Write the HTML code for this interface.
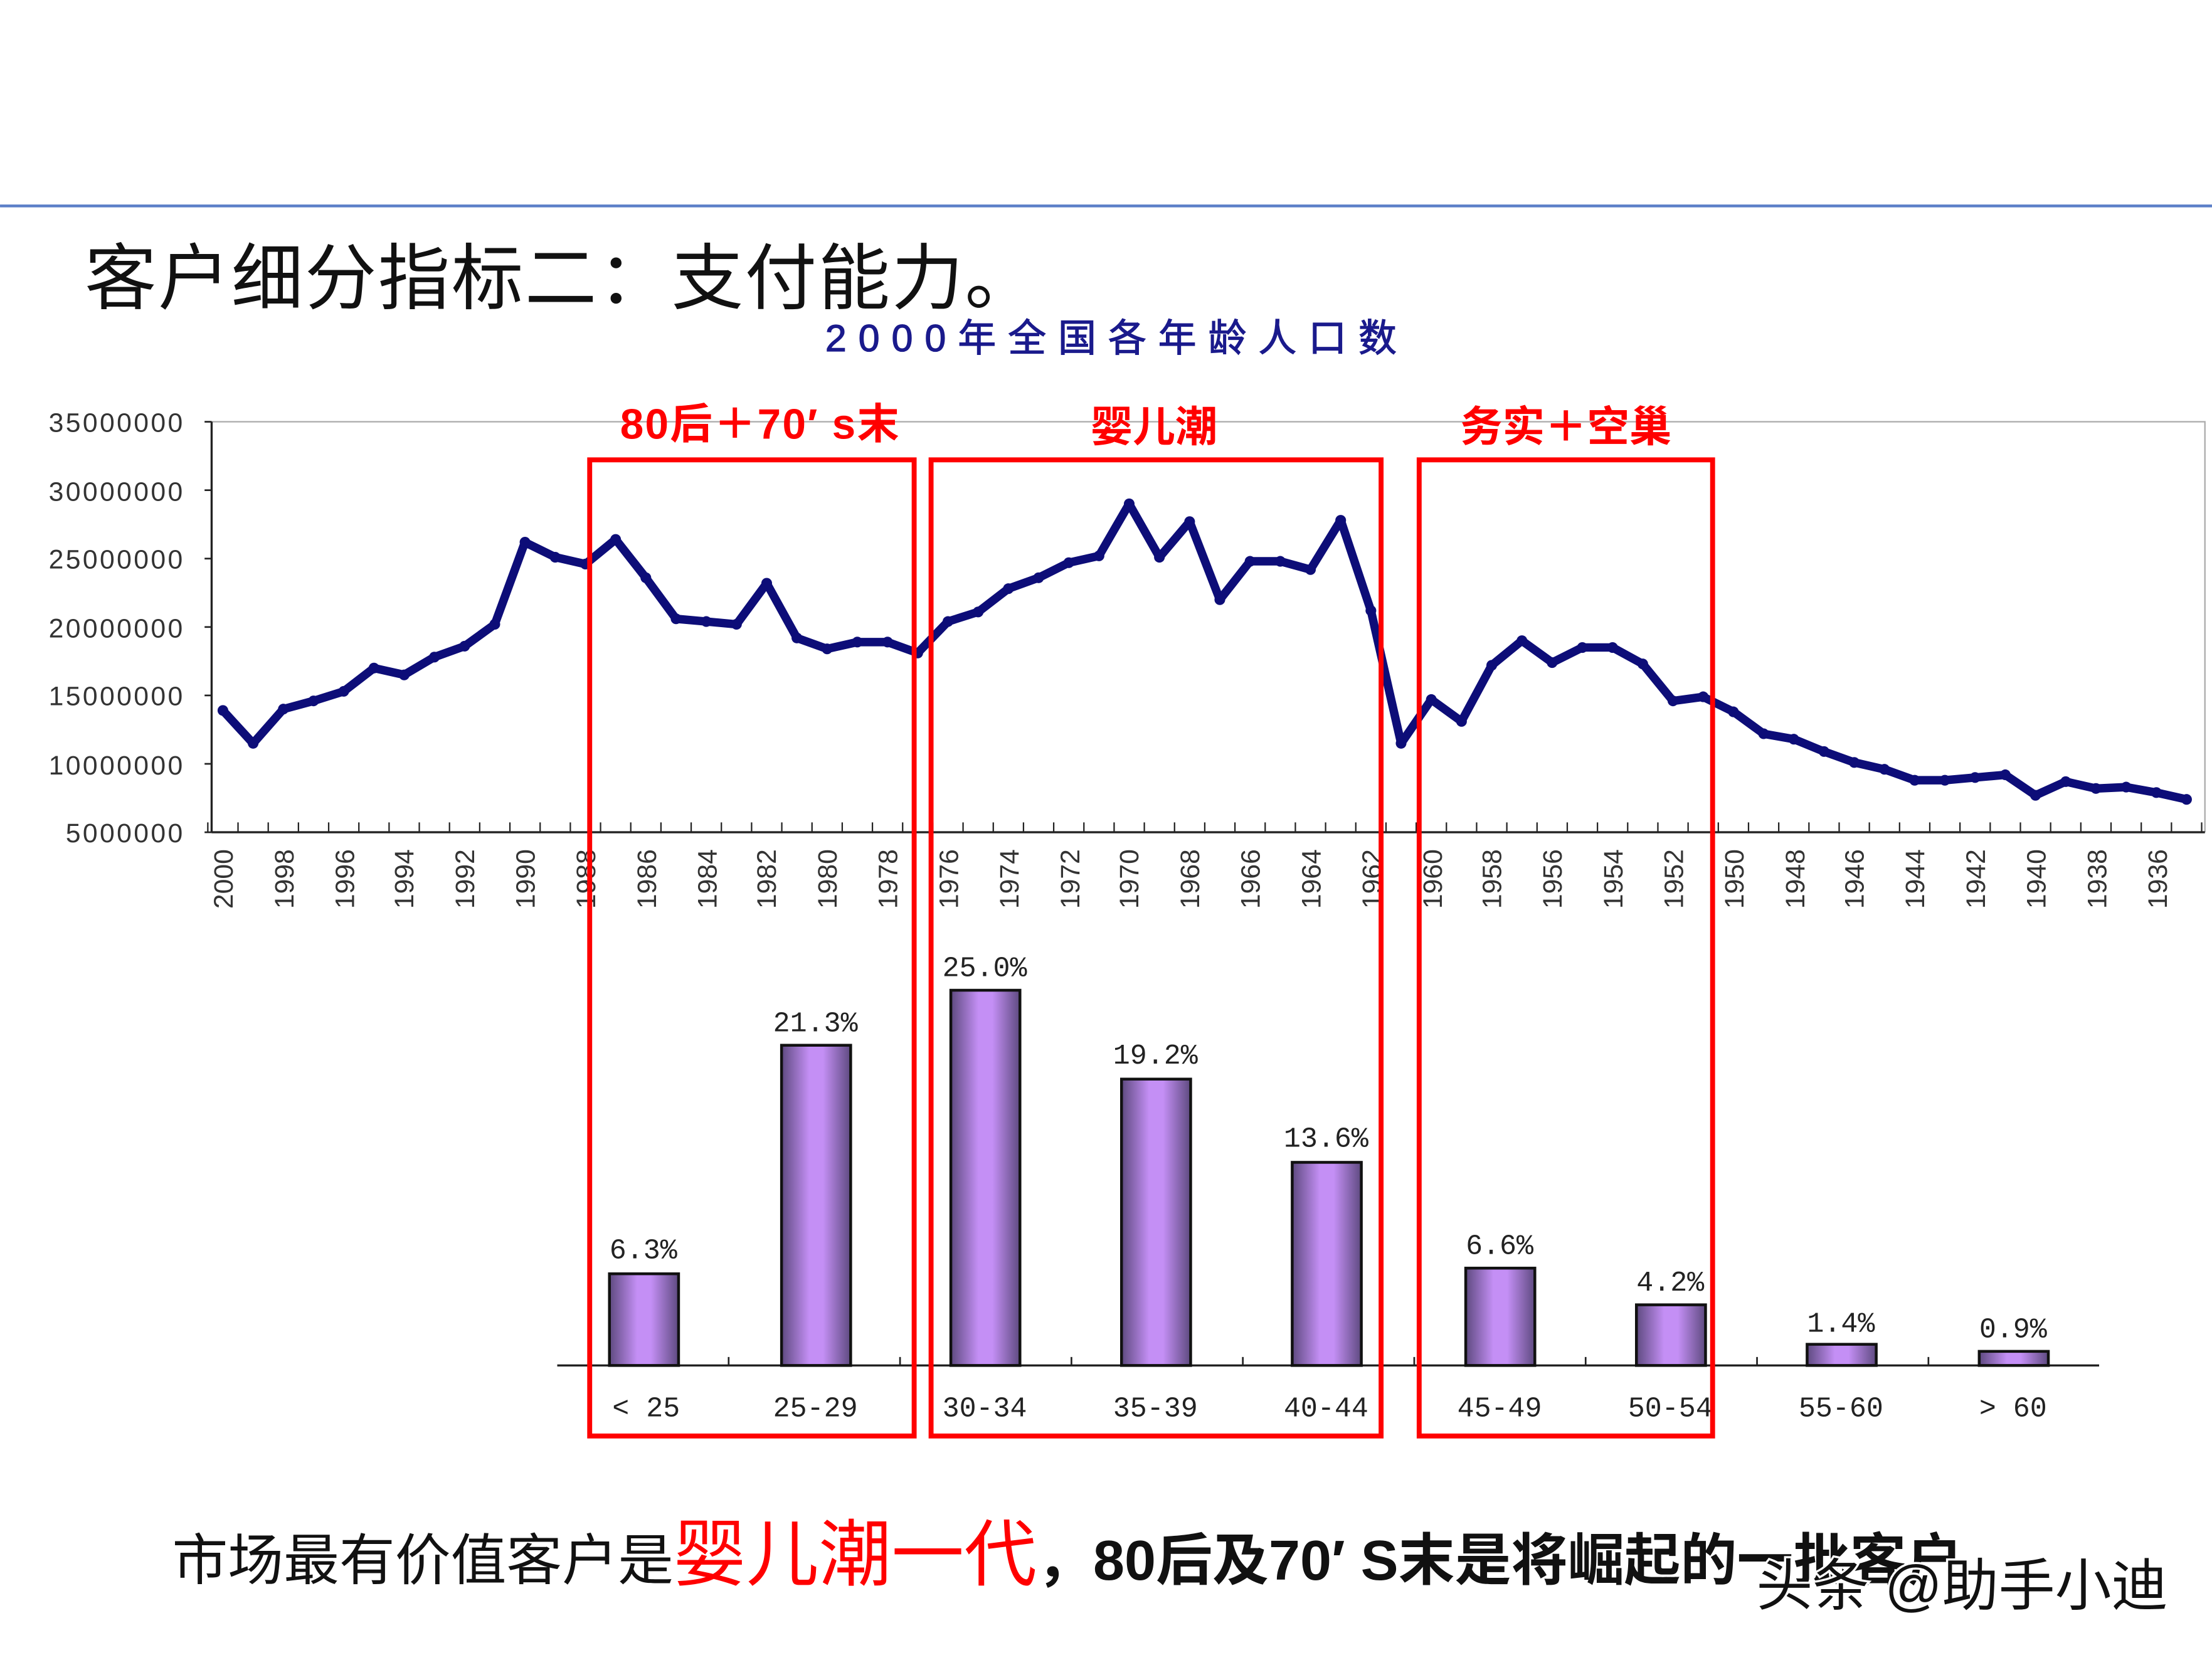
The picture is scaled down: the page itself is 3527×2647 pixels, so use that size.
<!DOCTYPE html>
<html><head><meta charset="utf-8"><style>
html,body{margin:0;padding:0;background:#fff;}
svg{display:block}
</style></head><body>
<svg id="s" xmlns="http://www.w3.org/2000/svg" width="3527" height="2647" viewBox="0 0 1568 1176.8">
<defs>
<linearGradient id="bg" x1="0" x2="1" y1="0" y2="0">
<stop offset="0" stop-color="#5e4a80"/>
<stop offset="0.4" stop-color="#c48ff5"/>
<stop offset="0.6" stop-color="#c48ff5"/>
<stop offset="1" stop-color="#5e4a80"/>
</linearGradient>
</defs>
<rect width="1568" height="1177" fill="#fff"/>
<line x1="0" y1="146" x2="1568" y2="146" stroke="#5b7fc8" stroke-width="2"/>
<text x="60" y="215" font-family="Liberation Sans, Noto Sans CJK SC, sans-serif" font-size="51" fill="#111" letter-spacing="1">客户细分指标二：支付能力。</text>
<text x="585" y="249" font-family="Liberation Sans, Noto Sans CJK SC, sans-serif" font-size="27" fill="#1a1a8c" stroke="#1a1a8c" stroke-width="0.6" letter-spacing="8.5">2000年全国各年龄人口数</text>

<!-- plot frame -->
<polyline points="150,299 1563,299 1563,590" fill="none" stroke="#aaa" stroke-width="1"/>
<line x1="150" y1="299" x2="150" y2="590" stroke="#222" stroke-width="1.5"/>
<line x1="150" y1="590" x2="1563" y2="590" stroke="#222" stroke-width="1.5"/>
<g id="yt" stroke="#222" stroke-width="1.2"></g>
<g font-family="Liberation Sans, sans-serif" font-size="19" fill="#333" text-anchor="end" letter-spacing="1.5">
<text x="131" y="306">35000000</text>
<text x="131" y="355">30000000</text>
<text x="131" y="403">25000000</text>
<text x="131" y="452">20000000</text>
<text x="131" y="500">15000000</text>
<text x="131" y="549">10000000</text>
<text x="131" y="597">5000000</text>
</g>
<g id="xt" stroke="#222" stroke-width="1"></g>
<g font-family="Liberation Sans, sans-serif" font-size="19" fill="#333" text-anchor="end">
<text transform="translate(165,602) rotate(-90)">2000</text>
<text transform="translate(208,602) rotate(-90)">1998</text>
<text transform="translate(251,602) rotate(-90)">1996</text>
<text transform="translate(293,602) rotate(-90)">1994</text>
<text transform="translate(336,602) rotate(-90)">1992</text>
<text transform="translate(379,602) rotate(-90)">1990</text>
<text transform="translate(422,602) rotate(-90)">1988</text>
<text transform="translate(465,602) rotate(-90)">1986</text>
<text transform="translate(508,602) rotate(-90)">1984</text>
<text transform="translate(550,602) rotate(-90)">1982</text>
<text transform="translate(593,602) rotate(-90)">1980</text>
<text transform="translate(636,602) rotate(-90)">1978</text>
<text transform="translate(679,602) rotate(-90)">1976</text>
<text transform="translate(722,602) rotate(-90)">1974</text>
<text transform="translate(765,602) rotate(-90)">1972</text>
<text transform="translate(807,602) rotate(-90)">1970</text>
<text transform="translate(850,602) rotate(-90)">1968</text>
<text transform="translate(893,602) rotate(-90)">1966</text>
<text transform="translate(936,602) rotate(-90)">1964</text>
<text transform="translate(979,602) rotate(-90)">1962</text>
<text transform="translate(1022,602) rotate(-90)">1960</text>
<text transform="translate(1064,602) rotate(-90)">1958</text>
<text transform="translate(1107,602) rotate(-90)">1956</text>
<text transform="translate(1150,602) rotate(-90)">1954</text>
<text transform="translate(1193,602) rotate(-90)">1952</text>
<text transform="translate(1236,602) rotate(-90)">1950</text>
<text transform="translate(1279,602) rotate(-90)">1948</text>
<text transform="translate(1321,602) rotate(-90)">1946</text>
<text transform="translate(1364,602) rotate(-90)">1944</text>
<text transform="translate(1407,602) rotate(-90)">1942</text>
<text transform="translate(1450,602) rotate(-90)">1940</text>
<text transform="translate(1493,602) rotate(-90)">1938</text>
<text transform="translate(1536,602) rotate(-90)">1936</text>
</g>
<polyline id="ln" fill="none" stroke="#0d0d78" stroke-width="6" stroke-linejoin="round" stroke-linecap="round"/>
<g id="dots" fill="#0d0d78"></g>

<!-- bar chart -->
<line x1="395" y1="968" x2="1488" y2="968" stroke="#222" stroke-width="1.5"/>
<g id="bt" stroke="#222" stroke-width="1.2"></g>
<g stroke="#111" stroke-width="2" fill="url(#bg)">
<rect x="432" y="903" width="49" height="65"/>
<rect x="554" y="741" width="49" height="227"/>
<rect x="674" y="702" width="49" height="266"/>
<rect x="795" y="765" width="49" height="203"/>
<rect x="916" y="824" width="49" height="144"/>
<rect x="1039" y="899" width="49" height="69"/>
<rect x="1160" y="925" width="49" height="43"/>
<rect x="1281" y="953" width="49" height="15"/>
<rect x="1403" y="958" width="49" height="10"/>
</g>
<g font-family="Liberation Mono, DejaVu Sans Mono, monospace" font-size="20" fill="#222" text-anchor="middle">
<text x="456" y="892">6.3%</text>
<text x="578" y="731">21.3%</text>
<text x="698" y="692">25.0%</text>
<text x="819" y="754">19.2%</text>
<text x="940" y="813">13.6%</text>
<text x="1063" y="889">6.6%</text>
<text x="1184" y="915">4.2%</text>
<text x="1305" y="944">1.4%</text>
<text x="1427" y="948">0.9%</text>
<text x="458" y="1004">&lt; 25</text>
<text x="578" y="1004">25-29</text>
<text x="698" y="1004">30-34</text>
<text x="819" y="1004">35-39</text>
<text x="940" y="1004">40-44</text>
<text x="1063" y="1004">45-49</text>
<text x="1184" y="1004">50-54</text>
<text x="1305" y="1004">55-60</text>
<text x="1427" y="1004">&gt; 60</text>
</g>

<!-- red boxes -->
<g fill="none" stroke="#ff0000" stroke-width="3.5">
<rect x="418" y="326" width="230" height="692"/>
<rect x="660" y="326" width="319" height="692"/>
<rect x="1006" y="326" width="208" height="692"/>
</g>
<g font-family="Liberation Sans, Noto Sans CJK SC, sans-serif" font-size="30" font-weight="bold" fill="#ff0000" text-anchor="middle">
<text x="539" y="311" letter-spacing="1">80后＋70′ s末</text>
<text x="818" y="313">婴儿潮</text>
<text x="1110" y="313">务实＋空巢</text>
</g>

<text x="122" y="1120" font-family="Liberation Sans, Noto Sans CJK SC, sans-serif" font-size="39.5" fill="#111">市场最有价值客户是<tspan font-size="51.5" fill="#ff0000">婴儿潮一代</tspan><tspan font-weight="bold" font-size="40">，80后及70′ S末是将崛起的一批客户</tspan></text>
<text x="1245" y="1138" font-family="Liberation Sans, Noto Sans CJK SC, sans-serif" font-size="40" fill="#111" stroke="#fff" stroke-width="3" paint-order="stroke">头条 @助手小迪</text>
</svg>
<script>
var v=[13.9,11.5,14.0,14.6,15.3,17.0,16.5,17.8,18.6,20.2,26.2,25.1,24.6,26.4,23.6,20.6,20.4,20.2,23.2,19.2,18.4,18.9,18.9,18.1,20.4,21.1,22.8,23.6,24.7,25.2,29.0,25.1,27.7,22.0,24.8,24.8,24.2,27.8,21.2,11.5,14.7,13.1,17.2,19.0,17.4,18.5,18.5,17.3,14.6,14.9,13.8,12.2,11.8,10.9,10.1,9.6,8.8,8.8,9.0,9.2,7.7,8.7,8.2,8.3,7.9,7.4];
var ns="http://www.w3.org/2000/svg",pts=[],d=document.getElementById('dots');
for(var i=0;i<v.length;i++){var x=158+i*21.415,y=299+(35-v[i])*9.7;pts.push(x.toFixed(1)+','+y.toFixed(1));
var c=document.createElementNS(ns,'circle');c.setAttribute('cx',x);c.setAttribute('cy',y);c.setAttribute('r',3.8);d.appendChild(c);}
document.getElementById('ln').setAttribute('points',pts.join(' '));
var xt=document.getElementById('xt');
for(var k=0;k<=66;k++){var x=147.3+k*21.415;if(x>1563)break;var l=document.createElementNS(ns,'line');l.setAttribute('x1',x);l.setAttribute('x2',x);l.setAttribute('y1',590);l.setAttribute('y2',583);xt.appendChild(l);}
var yt=document.getElementById('yt');
for(var k=0;k<7;k++){var y=299+k*48.5;var l=document.createElementNS(ns,'line');l.setAttribute('x1',145);l.setAttribute('x2',150);l.setAttribute('y1',y);l.setAttribute('y2',y);yt.appendChild(l);}
var bt=document.getElementById('bt');
for(var k=1;k<9;k++){var x=395+k*121.5;var l=document.createElementNS(ns,'line');l.setAttribute('x1',x);l.setAttribute('x2',x);l.setAttribute('y1',968);l.setAttribute('y2',962);bt.appendChild(l);}
</script>
</body></html>
